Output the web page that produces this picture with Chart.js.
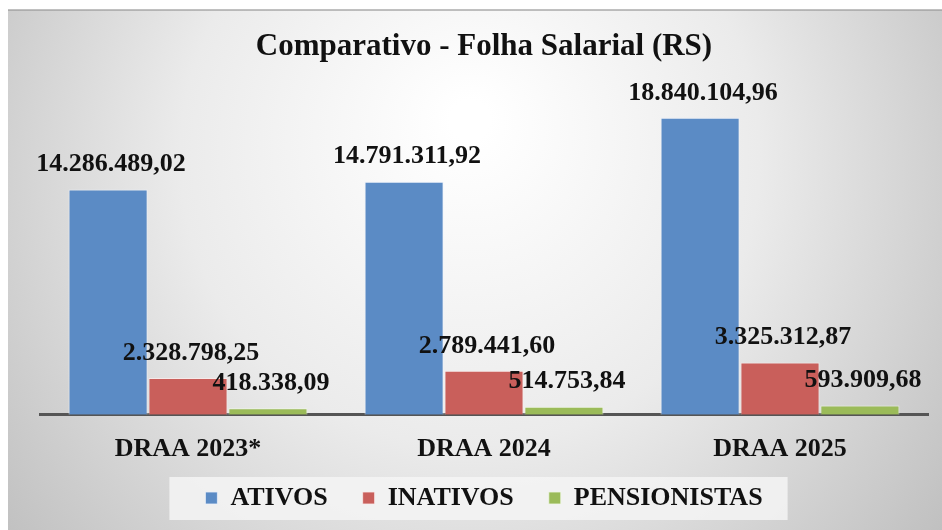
<!DOCTYPE html>
<html>
<head>
<meta charset="utf-8">
<script src="https://cdn.jsdelivr.net/npm/chart.js@4.4.1/dist/chart.umd.min.js"></script>
<style>
  html, body { margin: 0; padding: 0; background: #fff; }
  #wrap { width: 942px; height: 530px; }
</style>
</head>
<body>
<div id="wrap"><canvas id="myChart" width="942" height="530"></canvas></div>
<script>
// categories and series
const categories = ["DRAA 2023*", "DRAA 2024", "DRAA 2025"];
const ativos = [14286489.02, 14791311.92, 18840104.96];
const inativos = [2328798.25, 2789441.60, 3325312.87];
const pensionistas = [418338.09, 514753.84, 593909.68];
const seriesNames = ["ATIVOS", "INATIVOS", "PENSIONISTAS"];

const SERIF = "'Liberation Serif', 'Times New Roman', serif";

function formatBR(v) {
  let parts = v.toFixed(2).split(".");
  let intPart = parts[0].replace(/\B(?=(\d{3})+(?!\d))/g, ".");
  return intPart + "," + parts[1];
}

// background panel + legend box
const bgPlugin = {
  id: "bgPlugin",
  beforeDraw(chart) {
    const ctx = chart.ctx;
    ctx.save();
    ctx.fillStyle = "#ffffff";
    ctx.fillRect(0, 0, chart.width, chart.height);
    let g = ctx.createRadialGradient(470, 120, 20, 470, 200, 620);
    g.addColorStop(0, "#ffffff");
    g.addColorStop(0.45, "#ebebeb");
    g.addColorStop(1, "#bababa");
    ctx.fillStyle = g;
    ctx.fillRect(8, 10, chart.width - 8, chart.height - 10);
    ctx.fillStyle = "rgba(150,150,150,0.6)";
    ctx.fillRect(8, 9, chart.width - 8, 2);

    const boxes = chart.legend && chart.legend.legendHitBoxes;
    if (boxes && boxes.length) {
      let first = boxes[0];
      let last = boxes[boxes.length - 1];
      let x0 = first.left - 36;
      let x1 = last.left + last.width + 25;
      ctx.fillStyle = "rgba(244,244,244,0.85)";
      ctx.fillRect(x0, 477, x1 - x0, 43);
    }
    ctx.restore();
  }
};

// value labels above each bar
const labelPlugin = {
  id: "labelPlugin",
  afterDatasetsDraw(chart) {
    const ctx = chart.ctx;
    ctx.save();
    ctx.font = "bold 26px " + SERIF;
    ctx.fillStyle = "#111";
    ctx.textAlign = "center";
    ctx.textBaseline = "middle";
    chart.data.datasets.forEach((ds, i) => {
      const meta = chart.getDatasetMeta(i);
      meta.data.forEach((bar, j) => {
        ctx.fillText(formatBR(ds.data[j]), bar.x + 3, bar.y - 25);
      });
    });
    ctx.restore();
  }
};

new Chart(document.getElementById("myChart"), {
  type: "bar",
  data: {
    labels: categories,
    datasets: [
      {
        label: seriesNames[0],
        data: ativos,
        backgroundColor: "#5b8bc5",
        borderColor: "rgba(235,240,250,0.8)",
        borderWidth: 1
      },
      {
        label: seriesNames[1],
        data: inativos,
        backgroundColor: "#c95f5b",
        borderColor: "rgba(250,235,235,0.8)",
        borderWidth: 1
      },
      {
        label: seriesNames[2],
        data: pensionistas,
        backgroundColor: "#9bbb59",
        borderColor: "rgba(240,248,230,0.8)",
        borderWidth: 1
      }
    ]
  },
  options: {
    responsive: false,
    animation: false,
    layout: {
      padding: { top: 11, left: 40, right: 14, bottom: 9 }
    },
    datasets: {
      bar: { categoryPercentage: 0.81, barPercentage: 0.99 }
    },
    plugins: {
      title: {
        display: true,
        text: "Comparativo - Folha Salarial (RS)",
        color: "#111",
        font: { family: SERIF, size: 31, weight: "bold" },
        padding: { top: 17, bottom: 6 }
      },
      legend: {
        position: "bottom",
        labels: {
          color: "#111",
          font: { family: SERIF, size: 26, weight: "bold" },
          boxWidth: 12,
          boxHeight: 12,
          padding: 9,
          // extra room between the legend items
          generateLabels(chart) {
            const items = Chart.defaults.plugins.legend.labels.generateLabels(chart);
            items.forEach((it, i) => {
              if (i < items.length - 1) it.text = it.text + "    ";
            });
            return items;
          }
        }
      },
      tooltip: { enabled: false }
    },
    scales: {
      x: {
        grid: { display: false },
        border: { display: true, color: "#555", width: 3 },
        ticks: {
          color: "#111",
          font: { family: SERIF, size: 26, weight: "bold" },
          padding: 11
        }
      },
      y: {
        display: false,
        min: 0,
        max: 21800000
      }
    }
  },
  plugins: [bgPlugin, labelPlugin]
});
</script>
</body>
</html>
